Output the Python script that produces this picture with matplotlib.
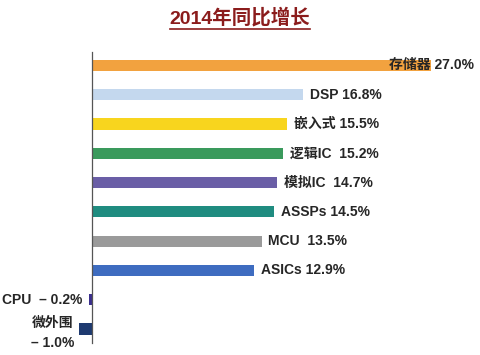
import matplotlib
matplotlib.use("Agg")
import matplotlib.pyplot as plt
from matplotlib.lines import Line2D

plt.rcParams['font.family'] = ['Liberation Sans', 'Noto Sans CJK SC', 'DejaVu Sans']

title = "2014年同比增长"
categories = ["存储器", "DSP", "嵌入式", "逻辑IC ", "模拟IC ", "ASSPs", "MCU ", "ASICs", "CPU ", "微外围"]
growth = [27.0, 16.8, 15.5, 15.2, 14.7, 14.5, 13.5, 12.9, -0.2, -1.0]
colors = ["#F2A23F", "#C4D8EE", "#F8D51E", "#3A9A5C", "#6A5EA6",
          "#1F8C80", "#9A9A9A", "#3E6CC0", "#3B2F8E", "#1E3A70"]

fig = plt.figure(figsize=(4.8, 3.55), dpi=100)
ax = fig.add_axes([0.0, 1 - 343 / 355, 1.0, (343 - 52) / 355])

ypos = list(range(len(categories)))
ax.barh(ypos, growth, height=0.38, color=colors)

# 0 sits at x=92px, 27% ends at x=431px
scale = (431 - 92) / 27.0
ax.set_xlim(-92 / scale, (480 - 92) / scale)
ax.set_ylim(len(categories) - 0.52, -0.46)

for s in ['top', 'right', 'bottom']:
    ax.spines[s].set_visible(False)
ax.spines['left'].set_position(('data', 0))
ax.spines['left'].set_color('#555555')
ax.spines['left'].set_linewidth(0.9)
ax.set_xticks([])
ax.set_yticks([])
ax.patch.set_alpha(0)

txt = dict(fontsize=10, color='#262626', va='center', fontweight='bold')
for i, (name, v) in enumerate(zip(categories, growth)):
    if i == 0:
        ax.annotate(f"{name} {v:.1f}%", (v, i), xytext=(31, 0),
                    textcoords='offset points', ha='right', **txt)
    elif name.startswith("CPU"):
        ax.annotate(f"{name} \u2013 {abs(v):.1f}%", (v, i), xytext=(-5, 0),
                    textcoords='offset points', ha='right', **txt)
    elif v < 0:
        ax.annotate(f"{name}\n\u2013 {abs(v):.1f}%", (v, i), xytext=(-4, -3),
                    textcoords='offset points', ha='right', ma='center',
                    linespacing=1.5, **txt)
    else:
        ax.annotate(f"{name} {v:.1f}%", (v, i), xytext=(5, 0),
                    textcoords='offset points', ha='left', **txt)

t = fig.text(0.5, 1 - 18 / 355, title, ha='center', va='center',
             fontsize=14, fontweight='bold', color='#8B1C1C')
fig.canvas.draw()
bb = t.get_window_extent().transformed(fig.transFigure.inverted())
fig.add_artist(Line2D([bb.x0, bb.x1], [bb.y0 - 0.004, bb.y0 - 0.004],
                      transform=fig.transFigure, color='#8B1C1C', lw=1.2))

fig.savefig("out.png", dpi=100)
